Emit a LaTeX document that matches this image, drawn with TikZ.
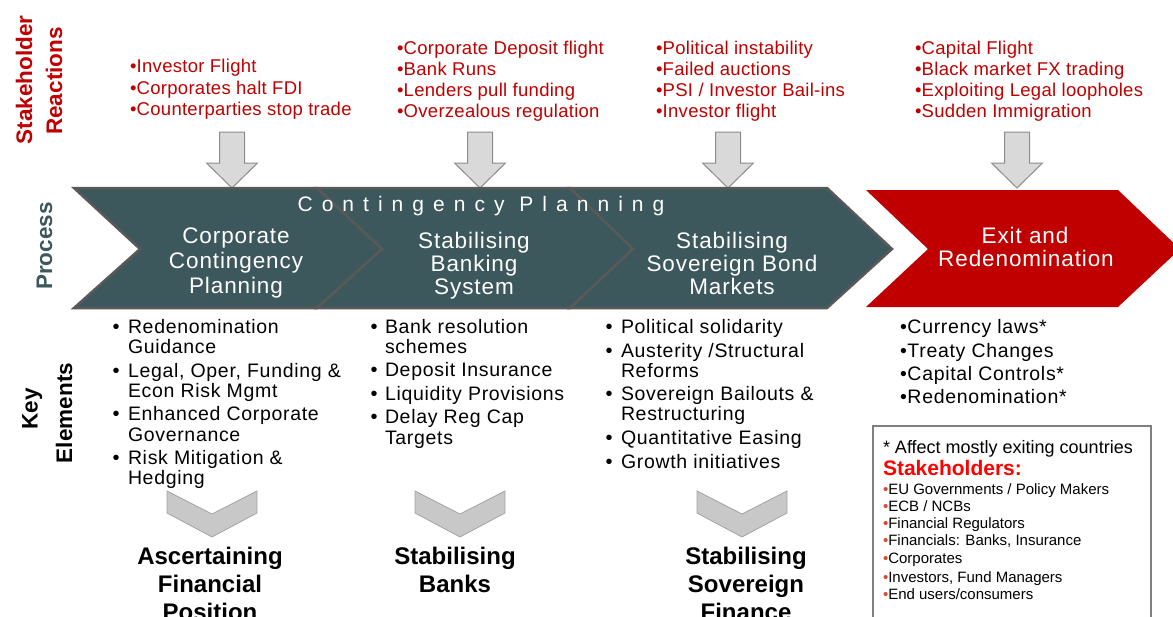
\documentclass[tikz,border=0pt]{standalone}
\usepackage{fontspec}
\setmainfont{Liberation Sans}
\definecolor{chevfill}{HTML}{3D585C}
\definecolor{chevline}{HTML}{595959}
\definecolor{exitred}{HTML}{C00000}
\definecolor{reacred}{HTML}{C00000}
\definecolor{brightred}{HTML}{FF0000}
\definecolor{bulletred}{HTML}{E0452A}
\definecolor{arrowfill}{HTML}{D9D9D9}
\definecolor{arrowline}{HTML}{8C8C8C}
\definecolor{boxline}{HTML}{808080}
\begin{document}
\begin{tikzpicture}[x=1pt,y=-1pt,
  txt/.style={inner sep=0pt, outer sep=0pt},
  sidelabel/.style={txt, rotate=90, anchor=base, font=\fontsize{22.5}{26}\selectfont\bfseries},
  reaction/.style={txt, anchor=base west, text=reacred, font=\fontsize{18.5}{21}\selectfont\addfontfeature{LetterSpace=1.5}},
  procbox/.style={fill=chevfill, draw=chevline, line width=2.5pt, line join=miter},
  proctext/.style={txt, anchor=base, text=white, font=\fontsize{22.5}{24}\selectfont\addfontfeature{LetterSpace=4}},
  keytext/.style={txt, anchor=base west, font=\fontsize{19.5}{20}\selectfont\addfontfeature{LetterSpace=3.5}},
  keybullet/.style={txt, anchor=base, font=\fontsize{20}{20}\selectfont},
  downarrow/.style={fill=arrowfill, draw=arrowline, line width=1pt},
  vshape/.style={fill=arrowfill!92!black, draw=arrowline!80!white, line width=0.8pt},
  outcome/.style={txt, anchor=base, font=\fontsize{24}{27}\selectfont\bfseries},
  boxtext/.style={txt, anchor=base west, font=\fontsize{15}{17}\selectfont}
]
\useasboundingbox (0,0) rectangle (1173,616);

% ---- side labels ----
\node[sidelabel, text=reacred] (lblstake) at (32,80) {Stakeholder};
\node[sidelabel, text=reacred] (lblreac) at (62,81) {Reactions};
\node[sidelabel, text=chevfill] (lblproc) at (52,246) {Process};
\node[sidelabel] (lblkey) at (37.5,409) {Key};
\node[sidelabel] (lblelem) at (72,413) {Elements};

% ---- stakeholder reactions ----
\foreach \t [count=\i] in {Investor Flight, Corporates halt FDI, Counterparties stop trade}
  \node[reaction] (ra\i) at (130,{72.5+21.5*(\i-1)}) {•\t};
\foreach \t [count=\i] in {Corporate Deposit flight, Bank Runs, Lenders pull funding, Overzealous regulation}
  \node[reaction] (rb\i) at (397,{54.5+21*(\i-1)}) {•\t};
\foreach \t [count=\i] in {Political instability, Failed auctions, {PSI / Investor Bail-ins}, Investor flight}
  \node[reaction] (rc\i) at (656,{54.5+21*(\i-1)}) {•\t};
\foreach \t [count=\i] in {Capital Flight, Black market FX trading, Exploiting Legal loopholes, Sudden Immigration}
  \node[reaction] (rd\i) at (915,{54.5+21*(\i-1)}) {•\t};

% ---- downward block arrows ----
\foreach \cx in {232, 480, 728, 1017}
  \draw[downarrow] (\cx-12.5,132) -- (\cx+12.5,132) -- (\cx+12.5,163) -- (\cx+25.5,163)
    -- (\cx,188) -- (\cx-25.5,163) -- (\cx-12.5,163) -- cycle;

% ---- process chevrons ----
\draw[procbox] (74,188) -- (317,188) -- (382,249) -- (317,308) -- (74,308) -- (140,249) -- cycle;
\draw[procbox] (317,188) -- (570,188) -- (633,249) -- (570,308) -- (317,308) -- (382,249) -- cycle;
\draw[procbox] (570,188) -- (827,188) -- (892,249) -- (827,308) -- (570,308) -- (633,249) -- cycle;
\fill[exitred] (866,190) -- (1118,190) -- (1180,249) -- (1118,307) -- (866,307) -- (928,249) -- cycle;

\node[txt, anchor=base, text=white, font=\fontsize{21}{24}\selectfont\addfontfeature{LetterSpace=43}] (contplan) at (481,211.5) {Contingency Planning};

\node[proctext] (p1a) at (236,243.5) {Corporate};
\node[proctext] (p1b) at (236,268.5) {Contingency};
\node[proctext] (p1c) at (236,293.5) {Planning};
\node[proctext] (p2a) at (474,248) {Stabilising};
\node[proctext] (p2b) at (474,271.5) {Banking};
\node[proctext] (p2c) at (474,294) {System};
\node[proctext] (p3a) at (732,248) {Stabilising};
\node[proctext] (p3b) at (732,271.5) {Sovereign Bond};
\node[proctext] (p3c) at (732,294) {Markets};
\node[proctext] (p4a) at (1025,243) {Exit and};
\node[proctext] (p4b) at (1026,266.5) {Redenomination};

% ---- key elements ----
\foreach \y [count=\i] in {333,377,420,464} \node[keybullet] (b1\i) at (116,\y) {•};
\node[keytext] (k1a) at (128,333) {Redenomination};
\node[keytext] (k1b) at (128,353) {Guidance};
\node[keytext] (k1c) at (128,377) {Legal, Oper, Funding \&};
\node[keytext] (k1d) at (128,397) {Econ Risk Mgmt};
\node[keytext] (k1e) at (128,420) {Enhanced Corporate};
\node[keytext] (k1f) at (128,441) {Governance};
\node[keytext] (k1g) at (128,464) {Risk Mitigation \&};
\node[keytext] (k1h) at (128,484) {Hedging};

\foreach \y [count=\i] in {333,376,400,423} \node[keybullet] (b2\i) at (374,\y) {•};
\node[keytext] (k2a) at (385,333) {Bank resolution};
\node[keytext] (k2b) at (385,353) {schemes};
\node[keytext] (k2c) at (385,376) {Deposit Insurance};
\node[keytext] (k2d) at (385,400) {Liquidity Provisions};
\node[keytext] (k2e) at (385,423) {Delay Reg Cap};
\node[keytext] (k2f) at (385,444) {Targets};

\foreach \y [count=\i] in {333,357,400,444,468} \node[keybullet] (b3\i) at (609,\y) {•};
\node[keytext] (k3a) at (621,333) {Political solidarity};
\node[keytext] (k3b) at (621,357) {Austerity /Structural};
\node[keytext] (k3c) at (621,377) {Reforms};
\node[keytext] (k3d) at (621,400) {Sovereign Bailouts \&};
\node[keytext] (k3e) at (621,420) {Restructuring};
\node[keytext] (k3f) at (621,444) {Quantitative Easing};
\node[keytext] (k3g) at (621,468) {Growth initiatives};

\node[keytext] (k4a) at (900,333) {•Currency laws*};
\node[keytext] (k4b) at (900,357) {•Treaty Changes};
\node[keytext] (k4c) at (900,380) {•Capital Controls*};
\node[keytext] (k4d) at (900,403) {•Redenomination*};

% ---- outcome chevrons and labels ----
\foreach \cx in {212,460,742}
  \draw[vshape] (\cx-45,491) -- (\cx,514) -- (\cx+45,491) -- (\cx+45,513) -- (\cx,537) -- (\cx-45,513) -- cycle;

\node[outcome] (o1a) at (210,564) {Ascertaining};
\node[outcome] (o1b) at (210,592) {Financial};
\node[outcome] (o1c) at (210,620) {Position};
\node[outcome] (o2a) at (455,564) {Stabilising};
\node[outcome] (o2b) at (455,592) {Banks};
\node[outcome] (o3a) at (746,564) {Stabilising};
\node[outcome] (o3b) at (746,592) {Sovereign};
\node[outcome] (o3c) at (746,620) {Finance};

% ---- stakeholder box ----
\draw[boxline, line width=1.5pt] (873,426) rectangle (1151,630);
\node[txt, anchor=base west, font=\fontsize{18}{20}\selectfont] (note) at (883,453) {* Affect mostly exiting countries};
\node[txt, anchor=base west, text=brightred, font=\fontsize{21}{24}\selectfont\bfseries] (sthead) at (883,475.5) {Stakeholders:};
\foreach \t/\y [count=\i] in {{EU Governments / Policy Makers}/494, {ECB / NCBs}/511, {Financial Regulators}/528.5,
    {Financials: Banks, Insurance}/545.5, {Corporates}/563.5, {Investors, Fund Managers}/582, {End users/consumers}/599.5}
  \node[boxtext] (s\i) at (883,\y) {\textcolor{bulletred}{•}\t};
\end{tikzpicture}
\end{document}
